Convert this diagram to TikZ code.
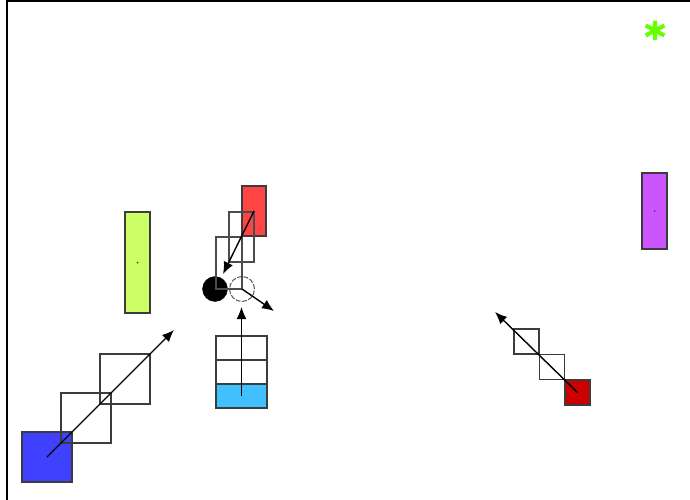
\documentclass[tikz,border=0pt]{standalone}
\usepackage{fontspec}
\newfontfamily\asteriskfont[FakeBold=2.5]{DejaVu Sans Bold}
\usetikzlibrary{arrows.meta}
\definecolor{boxblue}{RGB}{64,64,255}
\definecolor{boxlime}{RGB}{204,255,102}
\definecolor{boxred}{RGB}{255,68,68}
\definecolor{boxcyan}{RGB}{64,192,255}
\definecolor{boxdarkred}{RGB}{204,0,0}
\definecolor{boxviolet}{RGB}{204,85,255}
\definecolor{starlime}{RGB}{102,255,0}
\definecolor{edgegray}{RGB}{60,60,60}
\tikzset{
  box/.style={draw=edgegray, line width=1.4pt, inner sep=0pt, outer sep=0pt},
  ghost/.style={box, fill=none},
  marker/.style={circle, fill=black!70, inner sep=0pt, minimum size=2pt},
  mover/.style={line width=1.4pt, -{Latex[length=12pt,width=10pt]}},
}
\begin{document}
\begin{tikzpicture}[x=1pt,y=-1pt]
  \useasboundingbox (0,0) rectangle (690,500);
  % frame on top and left
  \draw[line width=2pt] (7,500) -- (7,1) -- (690,1);

  % blue square moving up-right
  \node[box, fill=boxblue, minimum width=50pt, minimum height=50pt] (blue) at (47,457) {};
  \node[ghost, minimum width=50pt, minimum height=50pt] (blueA) at (86,418) {};
  \node[ghost, minimum width=50pt, minimum height=50pt] (blueB) at (125,379) {};
  \coordinate (blueTip) at (174,330);
  \draw[mover] (blue.center) -- (blueTip);

  % lime bar
  \node[box, fill=boxlime, minimum width=25pt, minimum height=101pt] (lime) at (137.5,262.5) {};
  \node[marker] (limeDot) at (lime.center) {};

  % black and open circles
  \node[circle, fill=black, draw=black, minimum size=25pt, inner sep=0pt] (solid) at (215,289) {};
  \node[circle, draw=black!65, dash pattern=on 5pt off 1.5pt, line width=1pt, minimum size=25pt, inner sep=0pt] (open) at (242,289) {};

  % red bar moving down-left
  \node[box, fill=boxred, minimum width=24pt, minimum height=50pt] (red) at (254,211) {};
  \node[ghost, draw=gray!60!black, minimum width=25pt, minimum height=50pt] (redA) at (241.5,237) {};
  \node[ghost, draw=gray!60!black, minimum width=26pt, minimum height=52pt] (redB) at (229,263) {};
  \coordinate (redTip) at (223,274);
  \draw[mover] (red.center) -- (redTip);

  % arrow out of the open circle
  \coordinate (openTip) at (274,311);
  \draw[mover] (open.center) -- (openTip);

  % cyan stack moving up
  \node[box, fill=boxcyan, minimum width=51pt, minimum height=24pt] (cyan) at (241.5,396) {};
  \node[ghost, minimum width=51pt, minimum height=24pt] (cyanA) at (241.5,372) {};
  \node[ghost, minimum width=51pt, minimum height=24pt] (cyanB) at (241.5,348) {};
  \coordinate (cyanTip) at (241.5,307);
  \draw[mover] (cyan.center) -- (cyanTip);

  % dark red square moving up-left
  \node[box, fill=boxdarkred, minimum width=25pt, minimum height=25pt] (dred) at (577.5,392.5) {};
  \node[ghost, minimum width=25pt, minimum height=25pt] (dredA) at (552,367) {};
  \node[ghost, minimum width=25pt, minimum height=25pt] (dredB) at (526.5,341.5) {};
  \coordinate (dredTip) at (495,312);
  \draw[mover] (dred.center) -- (dredTip);

  % violet bar
  \node[box, fill=boxviolet, minimum width=25pt, minimum height=76pt] (violet) at (654.5,211) {};
  \node[marker] (violetDot) at (violet.center) {};

  % asterisk
  \node[text=starlime, font=\asteriskfont\fontsize{40}{40}\selectfont, inner sep=0pt] (star) at (655,36) {*};
\end{tikzpicture}
\end{document}
